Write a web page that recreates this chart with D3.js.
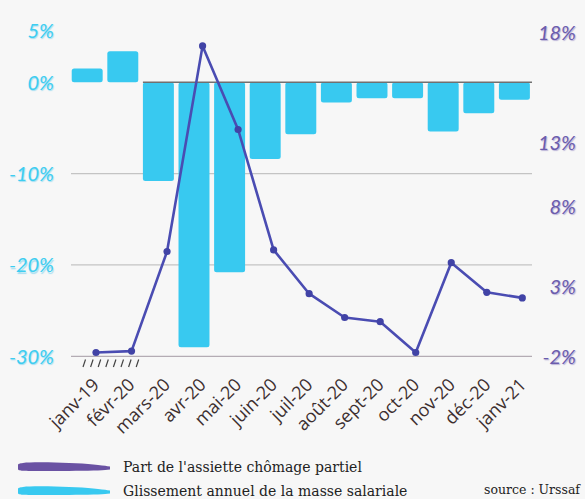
<!DOCTYPE html>
<html>
<head>
<meta charset="utf-8">
<script src="https://cdn.jsdelivr.net/npm/d3@7"></script>
<style>
  html, body { margin: 0; padding: 0; background: #f7f7f7; }
  svg { display: block; }
</style>
</head>
<body>
<div id="chart"></div>
<script>
// data
const months = ["janv-19", "févr-20", "mars-20", "avr-20", "mai-20", "juin-20", "juil-20",
  "août-20", "sept-20", "oct-20", "nov-20", "déc-20", "janv-21"];
// glissement annuel de la masse salariale (%)
const salaryGrowth = [1.5, 3.4, -10.8, -29.0, -20.8, -8.4, -5.7, -2.2, -1.75, -1.75, -5.4, -3.4, -1.9];
// part de l'assiette chômage partiel (%)
const partialShare = [-1.7, -1.6, 5.2, 17.4, 13.6, 5.3, 2.5, 0.8, 0.5, -1.7, 4.5, 2.6, 2.2];
const leftTicks = [5, 0, -10, -20, -30];
const gridTicks = [-10, -20, -30];
const rightTicks = [18, 13, 8, 3, -2];
const legendItems = [
  { label: "Part de l'assiette chômage partiel", color: "#6a52a3" },
  { label: "Glissement annuel de la masse salariale", color: "#38c9f0" },
];

const width = 585, height = 499;
const barColor = "#38c9f0";
const lineColor = "#4a4cb2";

const svg = d3.select("#chart").append("svg")
  .attr("width", width)
  .attr("height", height)
  .style("background", "#f7f7f7");

// scales
const x = d3.scaleBand().domain(months).range([69.4, 532.2]).paddingInner(0.13).paddingOuter(0.065);
const xLine = d3.scalePoint().domain(months).range([96, 522.3]);
const yLeft = d3.scaleLinear().domain([0, -30]).range([82.3, 356.3]);
// right axis labels are not evenly spaced in the original, so polylinear
const yRight = d3.scaleLinear().domain([-2, 3, 8, 13, 18]).range([356.7, 286.7, 206.7, 142.7, 32.7]);

const x0 = 71, x1 = 532;

// grid lines
svg.append("g")
  .selectAll("line")
  .data(gridTicks)
  .join("line")
  .attr("x1", x0)
  .attr("x2", x1)
  .attr("y1", (d) => yLeft(d))
  .attr("y2", (d) => yLeft(d))
  .attr("stroke", (d) => (d === -30 ? "#b4acb4" : "#c4c4c4"))
  .attr("stroke-width", 1.2);

// axis break marks under the first months
svg.append("g")
  .selectAll("line")
  .data(d3.range(8))
  .join("line")
  .attr("x1", (i) => 83 + i * 7.6)
  .attr("x2", (i) => 85.5 + i * 7.6)
  .attr("y1", 367)
  .attr("y2", 359.5)
  .attr("stroke", "#444")
  .attr("stroke-width", 1.2);

// bars
svg.append("g")
  .selectAll("rect")
  .data(months)
  .join("rect")
  .attr("x", (d) => x(d))
  .attr("width", x.bandwidth())
  .attr("y", (d, i) => yLeft(Math.max(0, salaryGrowth[i])))
  .attr("height", (d, i) => Math.abs(yLeft(salaryGrowth[i]) - yLeft(0)))
  .attr("rx", 2.5)
  .attr("fill", barColor);

// zero line
svg.append("line")
  .attr("x1", x(months[2]))
  .attr("x2", x1)
  .attr("y1", yLeft(0))
  .attr("y2", yLeft(0))
  .attr("stroke", "#707070")
  .attr("stroke-width", 1.5);

// line series
const line = d3.line()
  .x((d, i) => xLine(months[i]))
  .y((d) => yRight(d));

svg.append("path")
  .datum(partialShare)
  .attr("d", line)
  .attr("fill", "none")
  .attr("stroke", lineColor)
  .attr("stroke-width", 2.6)
  .attr("stroke-linejoin", "round");

svg.append("g")
  .selectAll("circle")
  .data(partialShare)
  .join("circle")
  .attr("cx", (d, i) => xLine(months[i]))
  .attr("cy", (d) => yRight(d))
  .attr("r", 3.6)
  .attr("fill", "#4143a6");

// left axis labels (the 5% label sits a bit higher in the original)
svg.append("g")
  .selectAll("text")
  .data(leftTicks)
  .join("text")
  .attr("x", 54)
  .attr("y", (d) => yLeft(d) - (d > 0 ? 6 : 0))
  .attr("dy", "0.36em")
  .attr("text-anchor", "end")
  .style("font-family", "Lato")
  .style("font-style", "italic")
  .style("font-size", "20px")
  .style("fill", "#3ecdf0")
  .style("text-shadow", "1px 1.5px 1px rgba(60,190,235,0.45)")
  .text((d) => d + "%");

// right axis labels
svg.append("g")
  .selectAll("text")
  .data(rightTicks)
  .join("text")
  .attr("x", 576)
  .attr("y", (d) => yRight(d))
  .attr("dy", "0.36em")
  .attr("text-anchor", "end")
  .style("font-family", "Lato")
  .style("font-style", "italic")
  .style("font-size", "20px")
  .style("fill", "#6b5cad")
  .style("text-shadow", "1px 1.5px 1px rgba(110,95,175,0.45)")
  .text((d) => d + "%");

// month labels
svg.append("g")
  .selectAll("text")
  .data(months)
  .join("text")
  .attr("transform", (d) => `translate(${x(d) + x.bandwidth() / 2 + 13}, 386) rotate(-45)`)
  .attr("text-anchor", "end")
  .style("font-family", "Open Sans")
  .style("font-size", "18px")
  .style("fill", "#3d2f2f")
  .text((d) => d);

// legend with brush-like strokes
const brush = d3.area()
  .x((d) => d[0])
  .y0((d) => d[1] - d[2])
  .y1((d) => d[1] + d[2])
  .curve(d3.curveBasis);

const legend = svg.append("g");
legendItems.forEach((item, i) => {
  const cy = 467 + i * 24;
  const pts = [[18, cy, 2.5], [20, cy, 4.2], [40, cy - 0.5, 4.4], [70, cy, 4], [95, cy + 0.5, 3.2], [110, cy + 1, 1.5]];
  legend.append("path")
    .attr("d", brush(pts))
    .attr("fill", item.color);
  legend.append("text")
    .attr("x", 123)
    .attr("y", cy + 5)
    .style("font-family", "DejaVu Serif")
    .style("font-size", "14px")
    .style("fill", "#222")
    .text(item.label);
});

svg.append("text")
  .attr("x", 580)
  .attr("y", 494)
  .attr("text-anchor", "end")
  .style("font-family", "DejaVu Serif")
  .style("font-size", "12.5px")
  .style("fill", "#222")
  .text("source : Urssaf");
</script>
</body>
</html>
